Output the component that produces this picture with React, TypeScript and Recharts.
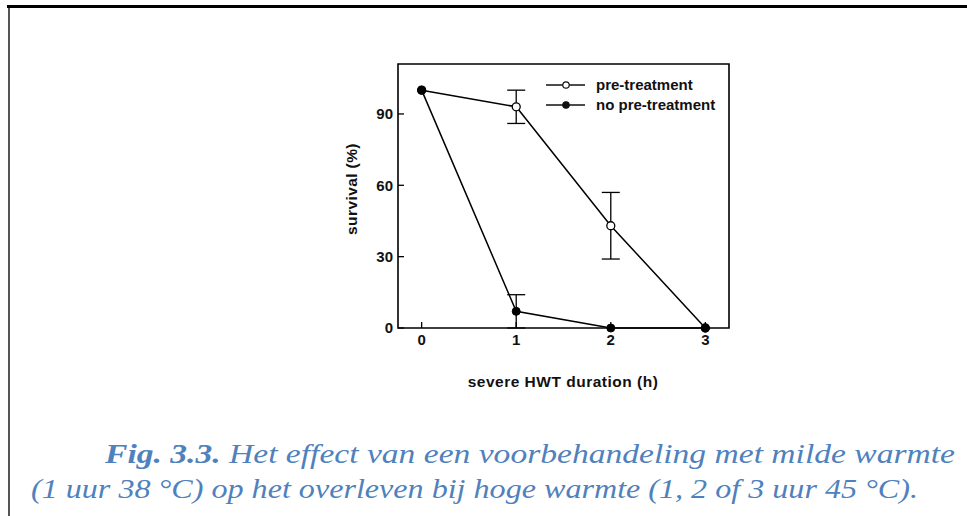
import React from "react";
import { LineChart, Line, XAxis, YAxis, ErrorBar, ReferenceArea } from "recharts";

const durations = [0, 1, 2, 3];
const preTreatment = [100, 93, 43, 0];
const preTreatmentErr = [0, 7, 14, 0];
const noPreTreatment = [100, 7, 0, 0];
const noPreTreatmentErr = [0, 7, 0, 0];
const xTicks = [0, 1, 2, 3];
const yTicks = [0, 30, 60, 90];
const seriesNames = ["pre-treatment", "no pre-treatment"];

const rows = durations.map((d, i) => ({
  hours: d,
  pre: preTreatment[i],
  preErr: preTreatmentErr[i],
  noPre: noPreTreatment[i],
  noPreErr: noPreTreatmentErr[i],
}));

const FONT = "'Liberation Sans', Arial, sans-serif";
const SERIF = "'Liberation Serif', 'DejaVu Serif', serif";
const INK = "#111";
const CAPTION = "#4f81bd";

const tickStyle = { fill: INK, fontSize: 15, fontWeight: 700, fontFamily: FONT };

export default function App() {
  return (
    <div style={{ position: "absolute", left: 0, top: 0, width: 967, height: 516, background: "#fff", overflow: "hidden" }}>
      <div style={{ position: "absolute", left: 7, top: 5, width: 960, height: 3, background: "#000" }} />
      <div style={{ position: "absolute", left: 8, top: 8, width: 2, height: 508, background: "#555" }} />

      <div style={{ position: "absolute", left: 0, top: 0 }}>
        <LineChart width={967} height={516} data={rows} margin={{ top: 64, right: 238, bottom: 158, left: 358 }}>
          <XAxis
            dataKey="hours"
            type="number"
            domain={[-0.25, 3.25]}
            ticks={xTicks}
            tick={tickStyle}
            tickSize={-6}
            tickMargin={12}
            height={30}
            axisLine={false}
            tickLine={{ stroke: "#000", strokeWidth: 1.3 }}
          />
          <YAxis
            type="number"
            domain={[0, 111]}
            ticks={yTicks}
            tick={tickStyle}
            tickSize={-6}
            tickMargin={11}
            width={40}
            axisLine={false}
            tickLine={{ stroke: "#000", strokeWidth: 1.3 }}
          />
          <ReferenceArea x1={-0.25} x2={3.25} y1={0} y2={111} fill="none" stroke="#000" strokeWidth={1.6} ifOverflow="visible" />
          <Line
            dataKey="pre"
            name={seriesNames[0]}
            stroke="#000"
            strokeWidth={1.5}
            dot={{ r: 4, fill: "#fff", stroke: "#000", strokeWidth: 1.3 }}
            isAnimationActive={false}
          >
            <ErrorBar dataKey="preErr" direction="y" width={9} stroke="#000" strokeWidth={1.3} />
          </Line>
          <Line
            dataKey="noPre"
            name={seriesNames[1]}
            stroke="#000"
            strokeWidth={1.5}
            dot={{ r: 4, fill: "#000", stroke: "#000", strokeWidth: 1 }}
            isAnimationActive={false}
          >
            <ErrorBar dataKey="noPreErr" direction="y" width={9} stroke="#000" strokeWidth={1.3} />
          </Line>
        </LineChart>
      </div>

      <svg width={967} height={516} style={{ position: "absolute", left: 0, top: 0, pointerEvents: "none" }}>
        {seriesNames.map((name, i) => {
          const y = 85 + i * 20;
          return (
            <g key={name}>
              <line x1={546} x2={585} y1={y} y2={y} stroke={INK} strokeWidth={1.5} />
              <circle cx={566} cy={y} r={3.2} fill={i === 0 ? "#fff" : INK} stroke={INK} strokeWidth={1.2} />
              <text x={596} y={y + 5} fontFamily={FONT} fontWeight={700} fontSize={15} fill={INK}>
                {name}
              </text>
            </g>
          );
        })}
        <text
          x={0}
          y={0}
          transform="translate(357 189) rotate(-90)"
          textAnchor="middle"
          fontFamily={FONT}
          fontWeight={700}
          fontSize={15.5}
          letterSpacing={0.4}
          fill={INK}
        >
          survival (%)
        </text>
        <text x={563} y={387} textAnchor="middle" fontFamily={FONT} fontWeight={700} fontSize={15.5} letterSpacing={0.5} fill={INK}>
          severe HWT duration (h)
        </text>
        <text x={105} y={463} fontFamily={SERIF} fontStyle="italic" fontSize={27} fill={CAPTION} textLength={850} lengthAdjust="spacingAndGlyphs">
          <tspan fontWeight={700}>Fig. 3.3.</tspan> Het effect van een voorbehandeling met milde warmte
        </text>
        <text x={31} y={498} fontFamily={SERIF} fontStyle="italic" fontSize={27} fill={CAPTION} textLength={887} lengthAdjust="spacingAndGlyphs">
          (1 uur 38 °C) op het overleven bij hoge warmte (1, 2 of 3 uur 45 °C).
        </text>
      </svg>
    </div>
  );
}
